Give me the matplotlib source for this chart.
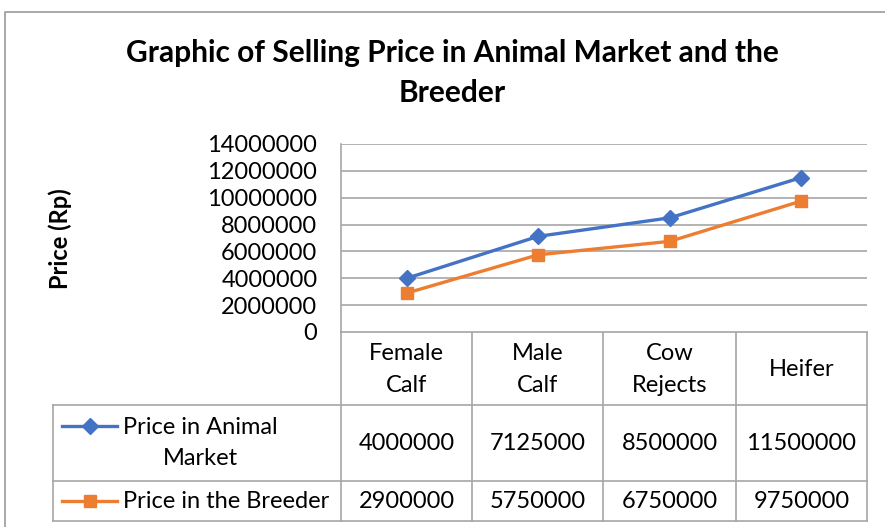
import matplotlib
matplotlib.use('Agg')
import matplotlib.pyplot as plt

plt.rcParams['font.family'] = ['Lato', 'DejaVu Sans']

# data
categories = ["Female\nCalf", "Male\nCalf", "Cow\nRejects", "Heifer"]
series_names = ["Price in Animal\nMarket", "Price in the Breeder"]
market = [4000000, 7125000, 8500000, 11500000]
breeder = [2900000, 5750000, 6750000, 9750000]
y_ticks = [0, 2000000, 4000000, 6000000, 8000000, 10000000, 12000000, 14000000]

BLUE = '#4472C4'
ORANGE = '#ED7D31'
GRID = '#a6a6a6'
W, H = 885, 527

fig = plt.figure(figsize=(W / 100, H / 100), dpi=100)

# overlay in pixel coordinates for frame, title and data table
ov = fig.add_axes([0, 0, 1, 1])
ov.set_xlim(0, W)
ov.set_ylim(H, 0)
ov.axis('off')

# chart frame
ov.plot([5, 5, W + 5], [H + 5, 12, 12], color='#9a9a9a', lw=1.2)

ov.text(452, 73, "Graphic of Selling Price in Animal Market and the\nBreeder",
        ha='center', va='center', fontsize=21.5, fontweight='bold',
        linespacing=1.52)
ov.text(60, 239, "Price (Rp)", rotation=90, ha='center', va='center',
        fontsize=17, fontweight='bold')

# plot area
x0, x1, ytop, ybot = 341, 867, 144, 332
ax = fig.add_axes([x0 / W, (H - ybot) / H, (x1 - x0) / W, (ybot - ytop) / H])
xs = range(len(categories))
ax.plot(xs, market, color=BLUE, lw=2.4, marker='D', ms=8, zorder=3)
ax.plot(xs, breeder, color=ORANGE, lw=2.4, marker='s', ms=8, zorder=3)
ax.set_xlim(-0.5, len(categories) - 0.5)
ax.set_ylim(0, 14000000)
ax.set_yticks(y_ticks)
ax.set_yticklabels([str(v) for v in y_ticks], fontsize=17)
ax.set_xticks([])
ax.tick_params(axis='y', length=0, pad=17)
ax.grid(axis='y', color=GRID, lw=1.2)
for s in ['top', 'right', 'bottom']:
    ax.spines[s].set_visible(False)
ax.spines['left'].set_color(GRID)
ax.spines['left'].set_linewidth(1.2)
ax.set_axisbelow(True)

# data table
col_edges = [341, 472, 603, 736, 867]
row_edges = [332, 405, 481, 521]
tleft = 53
lk = dict(color=GRID, lw=1.2)
ov.plot([x0, x1], [row_edges[0]] * 2, **lk)
for y in row_edges[1:]:
    ov.plot([tleft, x1], [y, y], **lk)
for x in col_edges:
    ov.plot([x, x], [row_edges[0], row_edges[-1]], **lk)
ov.plot([tleft, tleft], [row_edges[1], row_edges[-1]], **lk)

fs = 17
ls = 1.6
for i, c in enumerate(categories):
    cx = (col_edges[i] + col_edges[i + 1]) / 2
    ov.text(cx, (row_edges[0] + row_edges[1]) / 2 + 1, c, ha='center',
            va='center', fontsize=fs, linespacing=ls)

for r, (name, vals, col, mk) in enumerate(
        [(series_names[0], market, BLUE, 'D'),
         (series_names[1], breeder, ORANGE, 's')]):
    cy = (row_edges[r + 1] + row_edges[r + 2]) / 2
    key_y = cy if r == 1 else 426
    ov.plot([62, 117], [key_y, key_y], color=col, lw=2.4)
    ov.plot([89.5], [key_y], color=col, marker=mk, ms=8, ls='none')
    ov.text(226 if r == 1 else 200, cy, name, ha='center', va='center',
            fontsize=fs, linespacing=ls)
    for i, v in enumerate(vals):
        cx = (col_edges[i] + col_edges[i + 1]) / 2
        ov.text(cx, cy, str(v), ha='center', va='center', fontsize=fs)

fig.savefig('out.png', dpi=100)
